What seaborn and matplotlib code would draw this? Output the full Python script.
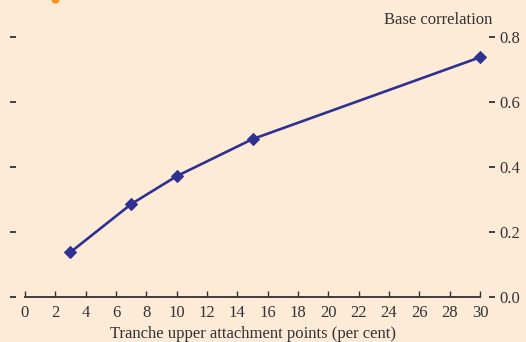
import numpy as np
import pandas as pd
import matplotlib
matplotlib.use("Agg")
import matplotlib.pyplot as plt
import seaborn as sns

attach_points = [3, 7, 10, 15, 30]
base_corr = [0.138, 0.286, 0.372, 0.486, 0.738]
x_ticks = list(range(0, 31, 2))
y_ticks = [0.0, 0.2, 0.4, 0.6, 0.8]

bg = "#fdebd7"
line_col = "#2e3192"
ink = "#333333"

sns.set_theme(style="white")
plt.rcParams['font.family'] = ['Liberation Serif', 'DejaVu Serif']

df = pd.DataFrame({"x": attach_points, "y": base_corr})

fig = plt.figure(figsize=(5.26, 3.42), dpi=100, facecolor=bg)
ax = fig.add_axes([13 / 526, 1 - 297 / 342, 479 / 526, 267 / 342])
ax.set_facecolor(bg)

sns.lineplot(data=df, x="x", y="y", ax=ax, color=line_col, linewidth=1.9,
             marker="D", markersize=6, markeredgecolor=line_col)

ax.set_xlim(-0.79, 30.79)
ax.set_ylim(0, 0.822)
for s in ["top", "left", "right"]:
    ax.spines[s].set_visible(False)
ax.spines["bottom"].set_bounds(0, 30)
ax.spines["bottom"].set_color(ink)
ax.spines["bottom"].set_linewidth(1.3)

ax.set_xticks(x_ticks)
ax.set_xticklabels([str(t) for t in x_ticks])
ax.tick_params(axis="x", direction="in", length=4, width=1, color=ink,
               labelsize=12, labelcolor=ink, pad=6, bottom=True)

ax.set_yticks(y_ticks)
ax.set_yticklabels([f"{t:.1f}" for t in y_ticks])
ax.tick_params(axis="y", direction="inout", length=4.5, width=1.3, color=ink,
               left=True, right=True, labelleft=False, labelright=True,
               labelsize=12, labelcolor=ink, pad=3)

ax.set_xlabel("Tranche upper attachment points (per cent)", fontsize=12,
              color=ink, labelpad=3)
ax.set_ylabel("")
fig.text(492 / 526, 1 - 20 / 342, "Base correlation", ha="right", va="center",
         fontsize=12, color=ink)

# small orange mark cut off at the top edge
ax.plot([55 / 526], [1 + 1 / 342], transform=fig.transFigure, marker="o",
        markersize=5, color="#f7941d", clip_on=False)

fig.savefig("out.png", dpi=100, facecolor=bg)
